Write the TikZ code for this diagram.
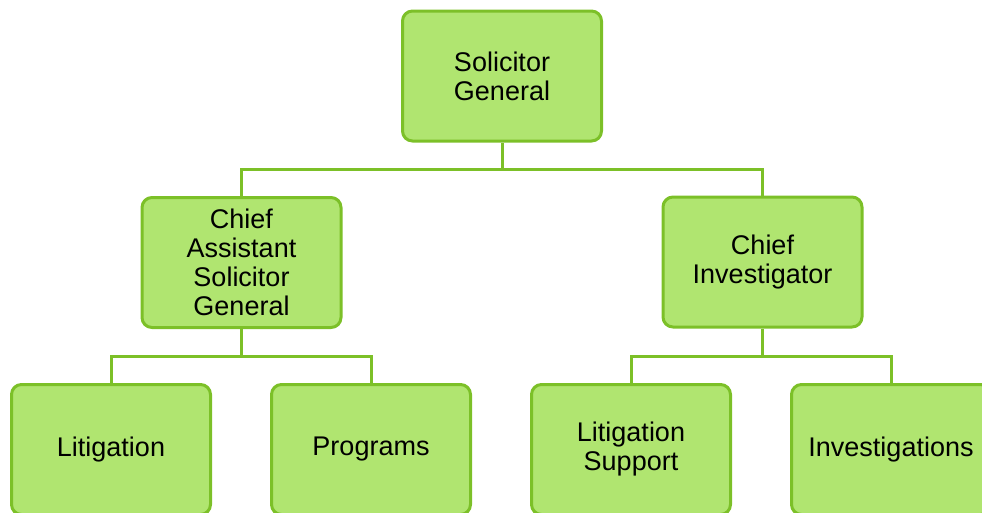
\documentclass[tikz,border=0pt]{standalone}
\usepackage{fontspec}
\setmainfont{Liberation Sans}
\definecolor{boxfill}{RGB}{176,229,112}
\definecolor{boxline}{RGB}{124,192,40}
\begin{document}
\begin{tikzpicture}[x=1pt,y=-1pt,
  orgbox/.style={draw=boxline, fill=boxfill, line width=3pt, rounded corners=10pt,
    minimum width=199pt, minimum height=130pt, align=center,
    font=\fontsize{27}{29}\selectfont, inner sep=0pt},
  link/.style={draw=boxline, line width=3pt}]
\useasboundingbox (0,0) rectangle (982,512);
\clip (0,0) rectangle (982,512);
\node[orgbox] (sg) at (502,76) {Solicitor\\General};
\node[orgbox] (casg) at (241.5,262.5) {Chief\\Assistant\\Solicitor\\General};
\node[orgbox] (ci) at (762.5,262) {Chief\\Investigator};
\node[orgbox] (lit) at (111,449.5) {Litigation};
\node[orgbox] (prog) at (371,449.5) {Programs};
\node[orgbox] (ls) at (631,449.5) {Litigation\\Support};
\node[orgbox] (inv) at (891,449.5) {Investigations};
\coordinate (bus1) at (502,169);
\coordinate (bus2) at (241.5,356);
\coordinate (bus3) at (762.5,356);
\draw[link] (sg.south) -- (bus1) -| (casg.north);
\draw[link] (bus1) -| (ci.north);
\draw[link] (casg.south) -- (bus2) -| (lit.north);
\draw[link] (bus2) -| (prog.north);
\draw[link] (ci.south) -- (bus3) -| (ls.north);
\draw[link] (bus3) -| (inv.north);
\end{tikzpicture}
\end{document}
